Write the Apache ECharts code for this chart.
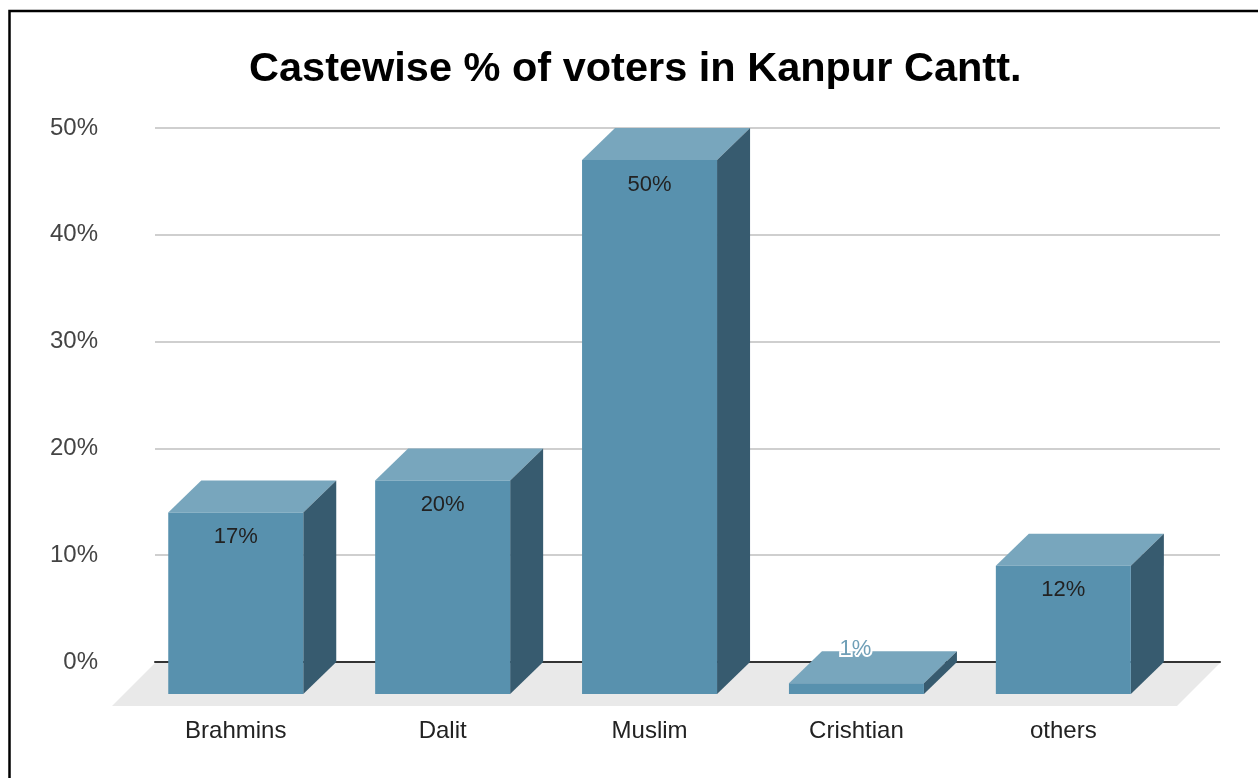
<!DOCTYPE html>
<html>
<head>
<meta charset="utf-8">
<script src="https://cdn.jsdelivr.net/npm/echarts@6/dist/echarts.min.js"></script>
<style>
html,body{margin:0;padding:0;background:#fff;}
#chart{width:1258px;height:778px;}
</style>
</head>
<body>
<div id="chart"></div>
<script>
const titleText = 'Castewise % of voters in Kanpur Cantt.';
const categories = ['Brahmins', 'Dalit', 'Muslim', 'Crishtian', 'others'];
const values = [17, 20, 50, 1, 12];
const yMin = 0, yMax = 50, yStep = 10;

const FONT = '"Liberation Sans", Arial, sans-serif';
const COL_FRONT = '#5891ae', COL_TOP = '#78a6bd', COL_SIDE = '#375b6f', COL_FLOOR = '#e9e9e9';
const DX = 33, DY = 32;

const chart = echarts.init(document.getElementById('chart'), null, {renderer: 'canvas'});

function renderBar(params, api) {
  const i = api.value(0), v = api.value(1);
  const top = api.coord([i, v]);
  const base = api.coord([i, 0]);
  const w = api.size([1, 0])[0] * 0.6525;
  const fl = top[0] - w / 2, fr = top[0] + w / 2;
  const ft = top[1] + DY, fb = base[1] + DY;
  const children = [
    {type: 'polygon', shape: {points: [[fl, ft], [fr, ft], [fr + DX, ft - DY], [fl + DX, ft - DY]]}, style: {fill: COL_TOP}},
    {type: 'polygon', shape: {points: [[fr, ft], [fr + DX, ft - DY], [fr + DX, fb - DY], [fr, fb]]}, style: {fill: COL_SIDE}},
    {type: 'rect', shape: {x: fl, y: ft, width: w, height: fb - ft}, style: {fill: COL_FRONT}}
  ];
  const inside = (fb - ft) > 30;
  children.push({
    type: 'text', x: top[0] + (inside ? 0 : -1), y: inside ? ft + 24.5 : ft - 34,
    style: inside ? {text: v + '%', fill: '#222', fontSize: 22, fontFamily: FONT, align: 'center', verticalAlign: 'middle'}
                  : {text: v + '%', fill: '#6f9fb7', stroke: '#fff', lineWidth: 4, fontSize: 22, fontFamily: FONT, align: 'center', verticalAlign: 'middle'}
  });
  return {type: 'group', children: children};
}

function renderFloor(params, api) {
  const cs = params.coordSys;
  const yb = cs.y + cs.height + 1;
  return {type: 'polygon', shape: {points: [[cs.x, yb], [cs.x + cs.width, yb], [cs.x + cs.width - 43, yb + 43], [cs.x - 43, yb + 43]]}, style: {fill: COL_FLOOR}};
}

const option = {
  animation: false,
  backgroundColor: '#fff',
  title: {
    text: titleText, left: 249, top: 49, padding: 0,
    textStyle: {fontFamily: FONT, fontWeight: 'bold', fontSize: 41.5, lineHeight: 42, color: '#000'}
  },
  graphic: [{
    type: 'rect', z: 100, silent: true,
    shape: {x: 9.5, y: 11, width: 1400, height: 1000},
    style: {fill: 'none', stroke: '#000', lineWidth: 2.5}
  }],
  grid: [
    {left: 155, right: 38, top: 128, bottom: 116},
    {left: 132.3, right: 91.2, top: 128, bottom: 116}
  ],
  xAxis: [
    {type: 'category', gridIndex: 0, data: categories,
     axisLine: {show: true, lineStyle: {color: '#333', width: 2}},
     axisTick: {show: false}, axisLabel: {show: false}, splitLine: {show: false}},
    {type: 'category', gridIndex: 1, data: categories,
     axisLine: {show: false}, axisTick: {show: false},
     axisLabel: {margin: 57, fontSize: 24, fontFamily: FONT, color: '#222'}}
  ],
  yAxis: [
    {type: 'value', gridIndex: 0, min: yMin, max: yMax, interval: yStep,
     axisLine: {show: false}, axisTick: {show: false},
     axisLabel: {formatter: '{value}%', margin: 57, fontSize: 24, fontFamily: FONT, color: '#444'},
     splitLine: {lineStyle: {color: '#cfcfcf', width: 2}}},
    {type: 'value', gridIndex: 1, min: yMin, max: yMax, interval: yStep, show: false}
  ],
  series: [
    {type: 'custom', xAxisIndex: 0, yAxisIndex: 0, z: -1, renderItem: renderFloor, data: [[0, 0]], silent: true},
    {type: 'custom', xAxisIndex: 1, yAxisIndex: 1, renderItem: renderBar, encode: {x: 0, y: 1},
     data: values.map((v, i) => [i, v]), clip: false}
  ]
};
chart.setOption(option);
</script>
</body>
</html>
